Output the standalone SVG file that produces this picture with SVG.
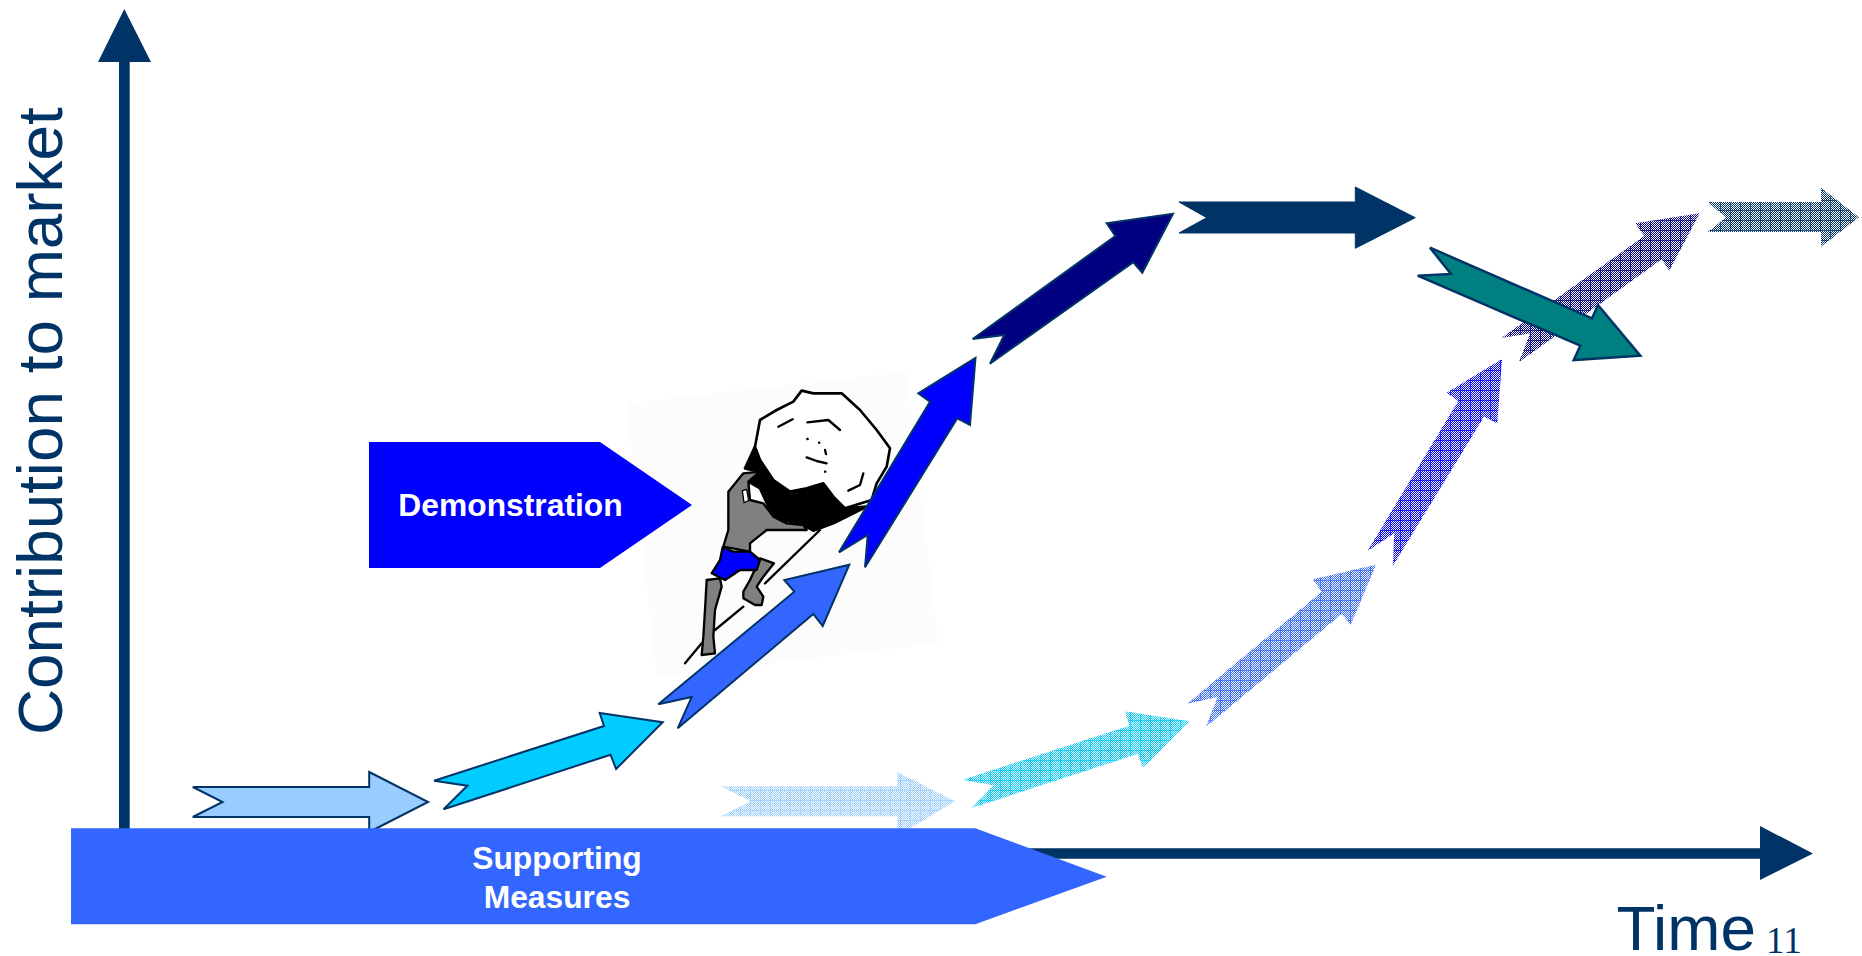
<svg xmlns="http://www.w3.org/2000/svg" width="1862" height="956" viewBox="0 0 1862 956">
<style>
text{font-family:"Liberation Sans",Arial,sans-serif}
.axis{fill:#003366}
.lbl{font-size:63.800px;fill:#003366}
.w{font-size:31.800px;font-weight:bold;fill:#fff;text-anchor:middle}
.s{stroke:#003366;stroke-width:2;stroke-linejoin:miter}
.sk{stroke:#000;stroke-width:8;stroke-linejoin:round;stroke-linecap:round}
.thin{fill:none;stroke:#000;stroke-width:7;stroke-linecap:round;stroke-linejoin:round}
.g{stroke-width:7}
.hl{stroke-opacity:.75;fill:none}
</style>
<defs>
<pattern id="chk" width="2" height="2" patternUnits="userSpaceOnUse"><rect width="1" height="1" fill="#fff"/><rect x="1" y="1" width="1" height="1" fill="#fff"/></pattern>
<pattern id="p1" width="10" height="10" patternUnits="userSpaceOnUse"><rect width="10" height="10" fill="#99ccff"/><rect width="10" height="10" fill="url(#chk)"/><path class="hl" d="M0 .5H10M.5 0V10" stroke="#99ccff"/></pattern>
<pattern id="p2" width="10" height="10" patternUnits="userSpaceOnUse"><rect width="10" height="10" fill="#00ccff"/><rect width="10" height="10" fill="url(#chk)"/><path class="hl" d="M0 .5H10M.5 0V10" stroke="#00ccff"/></pattern>
<pattern id="p3" width="10" height="10" patternUnits="userSpaceOnUse"><rect width="10" height="10" fill="#3366ff"/><rect width="10" height="10" fill="url(#chk)"/><path class="hl" d="M0 .5H10M.5 0V10" stroke="#3366ff"/></pattern>
<pattern id="p4" width="10" height="10" patternUnits="userSpaceOnUse"><rect width="10" height="10" fill="#0000ff"/><rect width="10" height="10" fill="url(#chk)"/><path class="hl" d="M0 .5H10M.5 0V10" stroke="#0000ff"/></pattern>
<pattern id="p5" width="10" height="10" patternUnits="userSpaceOnUse"><rect width="10" height="10" fill="#000080"/><rect width="10" height="10" fill="url(#chk)"/><path class="hl" d="M0 .5H10M.5 0V10" stroke="#000080"/></pattern>
<pattern id="p6" width="10" height="10" patternUnits="userSpaceOnUse"><rect width="10" height="10" fill="#003366"/><rect width="10" height="10" fill="url(#chk)"/><path class="hl" d="M0 .5H10M.5 0V10" stroke="#003366"/></pattern>
</defs>
<rect width="1862" height="956" fill="#fff"/>
<g id="connectors">
<path class="axis" d="M119 62H98L124.300 9L151 62H129.700V835H119Z"/>
<path class="axis" d="M980 848.300H1760V826L1813 853.500L1760 880V858.700H980Z"/>
</g>
<g id="label-y"><text class="lbl" transform="translate(62,735) rotate(-90)">Contribution to market</text></g>
<g id="label-x"><text class="lbl" x="1616.500" y="950">Time</text></g>
<g id="page-number"><text x="1766" y="952.500" style="font-family:'Liberation Serif',serif;font-size:37px;fill:#003366">11</text></g>
<g id="sisyphus" transform="translate(600,360) scale(.33333)">
<path fill="#fcfcfc" d="M80 130L920 35L1015 850L170 950Z"/>
<path fill="#000" class="sk" d="M465 260L435 325L480 335L445 365L480 385L505 440L535 478L600 490L640 512L700 490L750 465L800 440L735 445L670 368L570 395L520 360L480 300Z"/>
<path fill="#fff" class="sk" d="M605 92L640 100L725 100L780 150L830 210L870 265L860 320L830 370L815 420L735 445L700 410L670 370L620 385L570 395L520 360L480 300L465 260L480 180L530 150L580 125Z"/>
<path class="thin" d="M535 200L578 178M622 187L685 180L720 210M622 237h1M657 248h1M675 270l3 12M620 292L650 303L680 310M675 335h1M745 392L780 375L790 340"/>
<path fill="#808080" class="sk g" d="M385 395L430 340L480 335L445 365L450 420L490 430L520 470L560 490L610 495L620 510L500 510L450 550L450 575L370 560L385 510L385 450Z"/>
<path fill="#fff" stroke="#000" stroke-width="4" d="M427 392L440 388L446 422L432 428Z"/>
<path fill="#808080" class="sk g" d="M320 660L360 655L365 680L345 750L340 830L345 880L305 885L310 830L315 750Z"/>
<path fill="#808080" class="sk g" d="M480 595L522 610L490 650L470 680L490 710L485 735L465 735L430 715L430 695L450 660Z"/>
<path fill="#0000ff" class="sk g" d="M368 562L400 575L450 575L480 600L470 630L420 630L375 660L335 640L360 600Z"/>
<path class="thin" d="M255 910L305 850M345 810L430 740M495 670L660 510"/>
</g>
<g id="step-1"><path class="s" fill="#99ccff" d="M192.800 787H369.200V772L428.100 802L369.200 832V817H192.800L222.600 802Z"/></g>
<g id="step-2"><path class="s" fill="#00ccff" d="M434.100 780.700L604 726L599.700 713L662.700 722.300L616.100 769L610.500 754.700L443.600 809.300L467.400 785.700Z"/></g>
<g id="step-3"><path class="s" fill="#3366ff" d="M658.300 704.300L794.300 591.700L784.300 580L849.300 564.700L822.700 626L813.300 614L677.700 728.300L691.700 697Z"/></g>
<g id="step-4"><path class="s" fill="#0000ff" d="M839 552.300L930 401.700L918.300 393.300L975.500 358L970 425L957.300 418.300L865 567.300L867.700 535Z"/></g>
<g id="step-5"><path class="s" fill="#000080" d="M972.700 339L1115.300 236L1106.700 223.300L1173 213.700L1142.300 272.700L1133.300 262.300L990 363.700L1004.300 335Z"/></g>
<g id="step-6"><path class="s" fill="#003366" style="stroke-width:1" d="M1179 202H1355.300V187L1415.300 217.700L1355.300 248.300V233H1179L1206.700 217.700Z"/></g>
<g id="ghost-1"><path fill="url(#p1)" d="M720.700 786.300H897.300V772L955 801.300L897.300 836V816.300H720.700L750.700 801.300Z"/></g>
<g id="ghost-2"><path fill="url(#p2)" d="M962.700 779.700L1129.300 725.700L1125 711.300L1189.300 721.300L1143.300 767.700L1137.700 754L971.700 808L993.300 785.300Z"/></g>
<g id="ghost-3"><path fill="url(#p3)" d="M1187.300 703.700L1321.700 591.700L1312.700 579.300L1376 564.700L1350.700 624.700L1341.700 614L1206 726.700L1217.700 697Z"/></g>
<g id="ghost-4"><path fill="url(#p4)" d="M1367.700 550.700L1458.300 401L1446.700 392.700L1502 359L1497.300 423.300L1484 416.700L1392.700 566L1394.300 533.300Z"/></g>
<g id="ghost-5"><path fill="url(#p5)" d="M1501.300 338L1644.300 236L1635.300 223.300L1699.700 213.300L1669.300 270.700L1661.700 259.300L1519 362L1530 333.300Z"/></g>
<g id="ghost-6"><path fill="url(#p6)" d="M1707.700 202H1821V187.700L1859 217.300L1821 246.700V232H1707.700L1726 217.300Z"/></g>
<g id="decline"><path class="s" style="stroke-width:2.500" fill="#008080" d="M1430 247.700L1592 318.300L1598 305L1640.300 355.700L1573.700 360L1580.300 345.700L1417.700 275.700L1451 274Z"/></g>
<g id="demonstration"><path fill="#0000ff" d="M369 442H600L692 505L600 568H369Z"/><text class="w" x="510.500" y="516">Demonstration</text></g>
<g id="supporting-measures"><path fill="#3366ff" d="M71 828.300H975.300L1106.700 876.700L975.300 924.300H71Z"/><text class="w" x="557" y="869">Supporting</text><text class="w" x="557" y="908">Measures</text></g>
</svg>
